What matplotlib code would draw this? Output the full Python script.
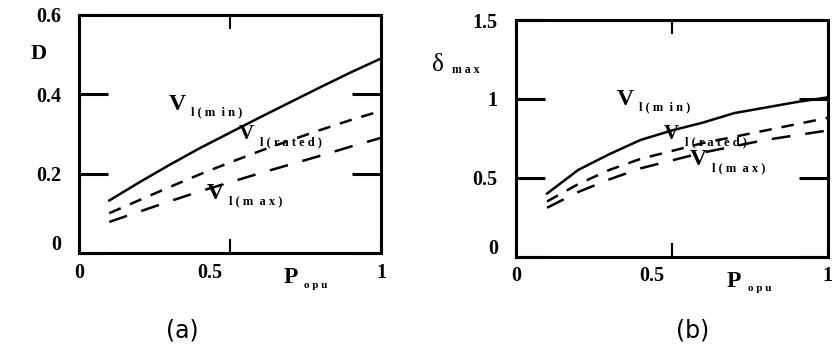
import matplotlib.pyplot as plt
from matplotlib.transforms import ScaledTranslation

# per-unit output power
p_opu = [0.1, 0.2, 0.3, 0.4, 0.5, 0.6, 0.7, 0.8, 0.9, 1.0]

# duty cycle D for min / rated / max input voltage
d_vmin = [0.132, 0.178, 0.222, 0.264, 0.303, 0.342, 0.380, 0.418, 0.455, 0.490]
d_vrated = [0.100, 0.133, 0.166, 0.198, 0.228, 0.257, 0.284, 0.310, 0.335, 0.358]
d_vmax = [0.078, 0.104, 0.130, 0.155, 0.178, 0.201, 0.223, 0.245, 0.268, 0.290]

# delta_max for min / rated / max input voltage
dm_vmin = [0.40, 0.55, 0.65, 0.74, 0.80, 0.85, 0.91, 0.945, 0.98, 1.01]
dm_vrated = [0.35, 0.46, 0.55, 0.62, 0.67, 0.72, 0.76, 0.80, 0.84, 0.88]
dm_vmax = [0.31, 0.41, 0.49, 0.56, 0.61, 0.66, 0.70, 0.74, 0.77, 0.80]

x_ticks = [0, 0.5, 1]
x_labels = ['0', '0.5', '1']
d_ticks = [0, 0.2, 0.4, 0.6]
d_labels = ['0', '0.2', '0.4', '0.6']
dm_ticks = [0, 0.5, 1, 1.5]
dm_labels = ['0', '0.5', '1', '1.5']

serif = 'Liberation Serif'

fig = plt.figure(figsize=(8.32, 3.45), dpi=100)
ax1 = fig.add_axes([0.095, 0.267, 0.363, 0.690])
ax2 = fig.add_axes([0.620, 0.256, 0.375, 0.686])


def style_axes(ax, yticks, ylabels):
    ax.set_xlim(0, 1)
    ax.set_ylim(yticks[0], yticks[-1])
    for s in ax.spines.values():
        s.set_linewidth(2.2)
    ax.set_xticks(x_ticks)
    ax.set_xticklabels(x_labels, fontfamily=serif, fontweight='bold', fontsize=14.5)
    ax.set_yticks(yticks)
    ax.set_yticklabels(ylabels, fontfamily=serif, fontweight='bold', fontsize=14.5)
    ax.tick_params(axis='y', direction='in', length=21, width=2.2,
                   left=True, right=True, pad=13)
    ax.tick_params(axis='x', direction='in', length=10, width=1.5,
                   top=True, bottom=True, pad=7)
    # the middle x label sits a bit left of its tick
    lab = ax.get_xticklabels()[1]
    lab.set_transform(lab.get_transform() + ScaledTranslation(-0.2, 0, fig.dpi_scale_trans))
    # the zero on the y axis sits a little above the corner
    lab = ax.get_yticklabels()[0]
    lab.set_transform(lab.get_transform() + ScaledTranslation(0, 0.1, fig.dpi_scale_trans))


def v_label(ax, x, y, sub, size=17):
    ax.text(x, y, 'V', transform=ax.transAxes, fontfamily=serif,
            fontweight='bold', fontsize=size, ha='center', va='center')
    ax.text(x + 0.045, y - 0.035, sub, transform=ax.transAxes, fontfamily=serif,
            fontweight='bold', fontsize=9, ha='left', va='center')


lw = 1.8
# (a) duty cycle
ax1.plot(p_opu, d_vmin, color='black', lw=lw)
ax1.plot(p_opu, d_vrated, color='black', lw=lw, dashes=(5, 4))
ax1.plot(p_opu, d_vmax, color='black', lw=lw, dashes=(7.5, 6))
style_axes(ax1, d_ticks, d_labels)
ax1.text(-0.135, 0.835, 'D', transform=ax1.transAxes, fontfamily=serif,
         fontweight='bold', fontsize=16, ha='center', va='center')
v_label(ax1, 0.325, 0.625, 'l ( m  i n )')
v_label(ax1, 0.555, 0.5, 'l ( r a t e d )', size=15)
v_label(ax1, 0.45, 0.25, 'l ( m  a x )')

# (b) delta max
ax2.plot(p_opu, dm_vmin, color='black', lw=lw)
ax2.plot(p_opu, dm_vrated, color='black', lw=lw, dashes=(5, 4))
ax2.plot(p_opu, dm_vmax, color='black', lw=lw, dashes=(7.5, 6))
style_axes(ax2, dm_ticks, dm_labels)
ax2.text(-0.25, 0.81, 'δ', transform=ax2.transAxes, fontfamily=serif,
         fontsize=18, ha='center', va='center')
ax2.text(-0.205, 0.79, 'm a x', transform=ax2.transAxes, fontfamily=serif,
         fontweight='bold', fontsize=8.5, ha='left', va='center')
v_label(ax2, 0.35, 0.665, 'l ( m  i n )')
v_label(ax2, 0.497, 0.52, 'l ( r a t e d )', size=15)
v_label(ax2, 0.585, 0.41, 'l ( m  a x )')

# x axis names and captions
for ax in (ax1, ax2):
    ax.text(0.70, -0.105, 'P', transform=ax.transAxes, fontfamily=serif,
            fontweight='bold', fontsize=17, ha='center', va='center')
    ax.text(0.745, -0.135, 'o p u', transform=ax.transAxes, fontfamily=serif,
            fontweight='bold', fontsize=8, ha='left', va='center')

fig.text(0.219, 0.043, '(a)', fontsize=17, ha='center', va='center')
fig.text(0.832, 0.043, '(b)', fontsize=17, ha='center', va='center')

fig.savefig('out.png', dpi=100)
